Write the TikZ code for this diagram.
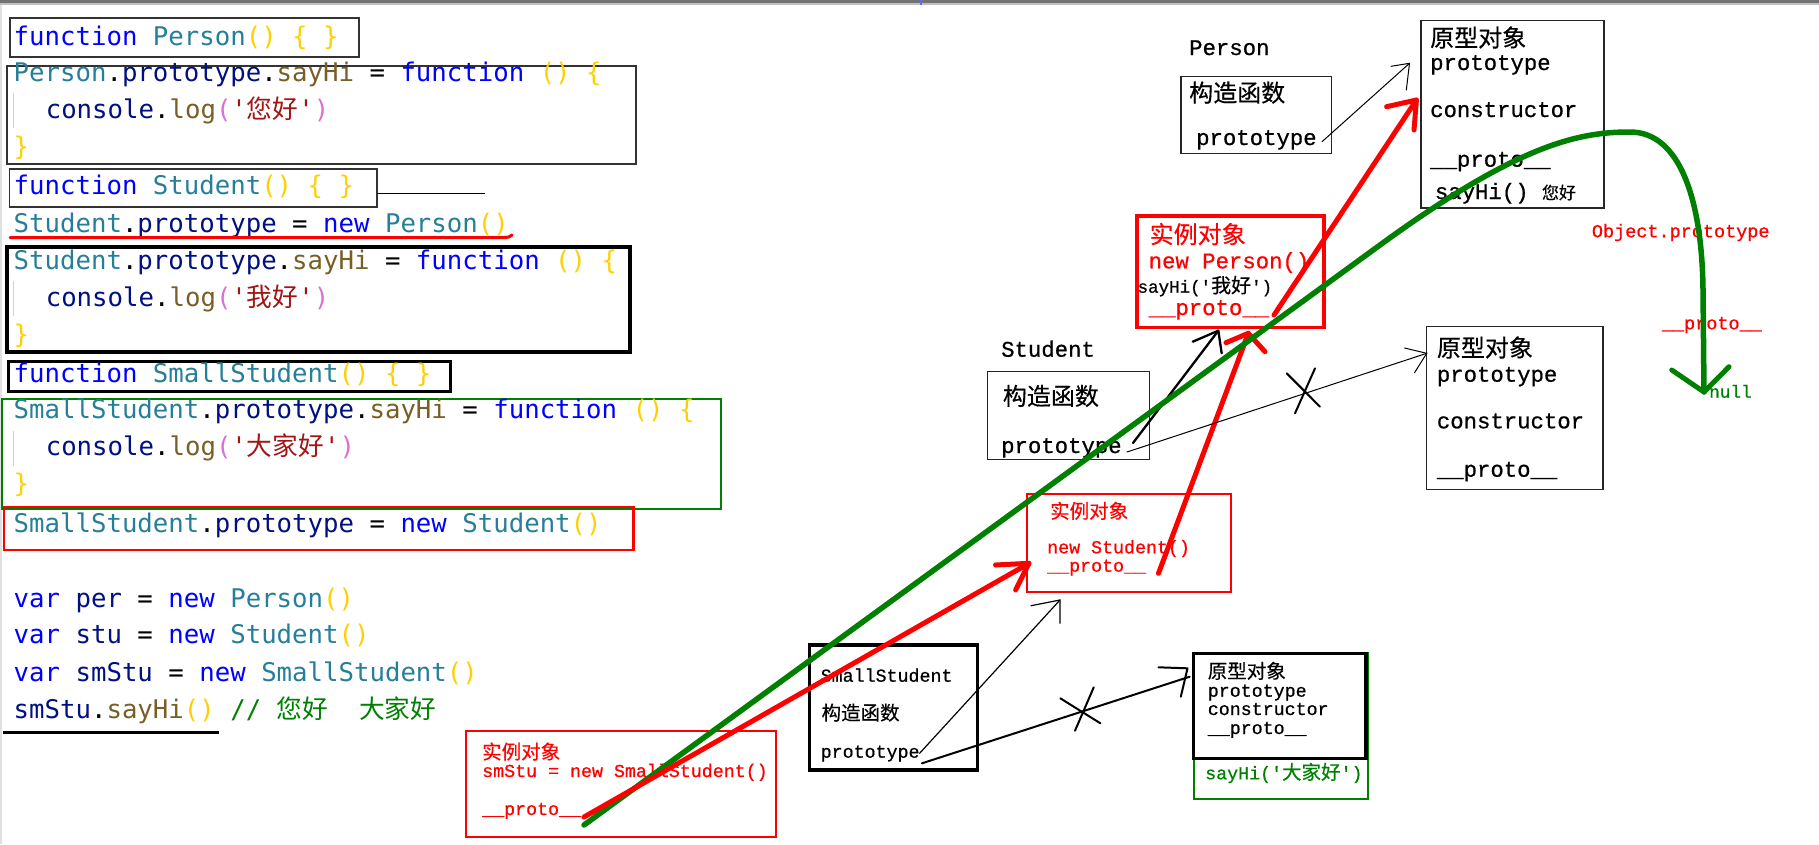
\documentclass[tikz,border=0pt]{standalone}
\usepackage{fontspec}
\setmonofont{DejaVu Sans Mono}
\newfontfamily\dmono{Liberation Mono}[FakeBold=0.7]
\newfontfamily\cjk{Noto Sans CJK SC}
\newfontfamily\cjkd{Noto Sans CJK SC}[FakeBold=0.4]
\definecolor{kwblue}{HTML}{0000FF}
\definecolor{tyteal}{HTML}{267F99}
\definecolor{prnavy}{HTML}{001080}
\definecolor{fnbrown}{HTML}{795E26}
\definecolor{brgold}{HTML}{FFD000}
\definecolor{brpink}{HTML}{DA70D6}
\definecolor{strred}{HTML}{A31515}
\definecolor{cmgreen}{HTML}{008000}
\definecolor{dgreen}{HTML}{008000}
\definecolor{pred}{HTML}{FF0000}
\newcommand\ckw[1]{\textcolor{kwblue}{#1}}
\newcommand\cty[1]{\textcolor{tyteal}{#1}}
\newcommand\cpr[1]{\textcolor{prnavy}{#1}}
\newcommand\cfn[1]{\textcolor{fnbrown}{#1}}
\newcommand\cbk[1]{\textcolor{brgold}{#1}}
\newcommand\cbp[1]{\textcolor{brpink}{#1}}
\newcommand\cst[1]{\textcolor{strred}{#1}}
\newcommand\ccm[1]{\textcolor{cmgreen}{#1}}
\newcommand\q{\textquotesingle}
\begin{document}
\begin{tikzpicture}[x=1pt,y=-1pt,
  code/.style={anchor=base west,inner sep=0pt,font=\ttfamily\fontsize{25.7}{30}\selectfont},
  dbig/.style={anchor=base west,inner sep=0pt,font=\dmono\fontsize{22.3}{26}\selectfont},
  dsmall/.style={anchor=base west,inner sep=0pt,font=\dmono\fontsize{18.3}{22}\selectfont},
  cbig/.style={anchor=base west,inner sep=0pt,font=\cjkd\fontsize{24}{28}\selectfont},
  csmall/.style={anchor=base west,inner sep=0pt,font=\cjkd\fontsize{19.5}{24}\selectfont},
  thinbox/.style={draw=black!85,line width=1.4pt},
  guide/.style={draw=black!18,line width=1.5pt},
  redarrow/.style={draw=pred,line width=5pt,line cap=round,line join=round},
  thinarrow/.style={draw=black,line width=1pt,line cap=round},
  midarrow/.style={draw=black,line width=2.3pt,line cap=round,line join=round},
  cross/.style={draw=black,line width=2pt,line cap=round}]
\useasboundingbox (0,0) rectangle (1819,844);
\fill[white] (0,0) rectangle (1819,844);
% top window edge
\fill[black!55] (0,0) rectangle (1819,3);
\fill[black!25] (0,3) rectangle (1819,4.5);
\fill[blue!60] (919.5,0) rectangle (922,4.5);
\draw[black!12,line width=1.2pt] (1,4.5) -- (1,844);

% ---------------- code ----------------
\draw[black!80,line width=1.5pt] (10,18) rectangle (359,57);
\node[code] (c1) at (13.5,45) {\ckw{function} \cty{Person}\cbk{()} \cbk{\{} \cbk{\}}};
\draw[black!80,line width=1.5pt] (7,66) rectangle (636,164);
\node[code] (c2) at (13.5,81.7) {\cty{Person}.\cpr{prototype}.\cfn{sayHi} = \ckw{function} \cbk{()} \cbk{\{}};
\draw[guide] (13.7,93) -- (13.7,128);
\node[code] (c3) at (45.6,118) {\cpr{console}.\cfn{log}\cbp{(}\cst{'{\cjk 您好}'}\cbp{)}};
\node[code] (c4) at (13.5,155) {\cbk{\}}};
\draw[black!80,line width=1.5pt] (9.5,169) rectangle (377,207);
\node[code] (c5) at (13.5,194) {\ckw{function} \cty{Student}\cbk{()} \cbk{\{} \cbk{\}}};
\coordinate (ls) at (377,193);
\coordinate (le) at (485,193);
\draw[black,line width=1pt] (ls) -- (le);
\node[code] (c6) at (13.5,232) {\cty{Student}.\cpr{prototype} = \ckw{new} \cty{Person}\cbk{()}};
\draw[pred,line width=3pt,line cap=round] (10,237.5) -- (505,237.5) to[bend right=20] (512,235);
\draw[black,line width=3.5pt] (7,247) rectangle (630,352);
\node[code] (c7) at (13.5,269) {\cty{Student}.\cpr{prototype}.\cfn{sayHi} = \ckw{function} \cbk{()} \cbk{\{}};
\draw[guide] (13.7,281) -- (13.7,316);
\node[code] (c8) at (45.6,306) {\cpr{console}.\cfn{log}\cbp{(}\cst{'{\cjk 我好}'}\cbp{)}};
\node[code] (c9) at (13.5,343) {\cbk{\}}};
\draw[black,line width=3pt] (8.3,361) rectangle (450,391);
\node[code] (c10) at (13.5,382) {\ckw{function} \cty{SmallStudent}\cbk{()} \cbk{\{} \cbk{\}}};
\draw[dgreen,line width=2pt] (2,399) rectangle (721,509);
\node[code] (c11) at (13.5,418) {\cty{SmallStudent}.\cpr{prototype}.\cfn{sayHi} = \ckw{function} \cbk{()} \cbk{\{}};
\draw[guide] (13.7,431) -- (13.7,466);
\node[code] (c12) at (45.6,455) {\cpr{console}.\cfn{log}\cbp{(}\cst{'{\cjk 大家好}'}\cbp{)}};
\node[code] (c13) at (13.5,492) {\cbk{\}}};
\draw[pred,line width=2.5pt] (4,507) rectangle (633.5,550);
\node[code] (c14) at (13.5,532) {\cty{SmallStudent}.\cpr{prototype} = \ckw{new} \cty{Student}\cbk{()}};
\node[code] (c15) at (13.5,607) {\ckw{var} \cpr{per} = \ckw{new} \cty{Person}\cbk{()}};
\node[code] (c16) at (13.5,643) {\ckw{var} \cpr{stu} = \ckw{new} \cty{Student}\cbk{()}};
\node[code] (c17) at (13.5,681) {\ckw{var} \cpr{smStu} = \ckw{new} \cty{SmallStudent}\cbk{()}};
\node[code] (c18) at (13.5,718) {\cpr{smStu}.\cfn{sayHi}\cbk{()} \ccm{// {\cjk 您好}\ \ {\cjk 大家好}}};
\draw[black,line width=2.5pt] (2.5,732.7) -- (219,732.7);

% ---------------- Person ----------------
\node[dbig] (plabel) at (1189,55) {Person};
\draw[thinbox] (1181,76.7) rectangle (1331.5,153.3);
\node[cbig] (pctor) at (1189,101.7) {构造函数};
\node[dbig] (pproto) at (1196,145) {prototype};
\draw[thinbox] (1421,20.7) rectangle (1604,208);
\node[cbig] (pp1) at (1430,46.7) {原型对象};
\node[dbig] (pp2) at (1430,70) {prototype};
\node[dbig] (pp3) at (1430,117) {constructor};
\node[dbig] (pp4) at (1430,166.7) {\_\_proto\_\_};
\node[dbig] (pp5) at (1434.7,199) {sayHi() {\cjkd\fontsize{17}{20}\selectfont 您好}};

% Person instance
\draw[pred,line width=3.5pt] (1137,216) rectangle (1324,327.7);
\node[cbig,text=pred] (pi1) at (1149.5,243.3) {实例对象};
\node[dbig,text=pred] (pi2) at (1148.5,268.3) {new Person()};
\node[anchor=base west,inner sep=0pt,font=\dmono\fontsize{17.5}{21}\selectfont] (pi3) at (1137.4,292.7) {sayHi(\q{\cjkd\fontsize{20}{24}\selectfont 我好}\q)};
\node[dbig,text=pred] (pi4) at (1148.5,315) {\_\_proto\_\_};

% ---------------- Student ----------------
\node[dbig] (slabel) at (1001,356.7) {Student};
\draw[thinbox] (987.7,371.7) rectangle (1149.6,459.3);
\node[cbig] (sctor) at (1002.7,405) {构造函数};
\node[dbig] (sproto) at (1001,453) {prototype};
\draw[thinbox] (1426.7,326.7) rectangle (1603,489.3);
\node[cbig] (sp1) at (1436.7,356.7) {原型对象};
\node[dbig] (sp2) at (1436.7,381.7) {prototype};
\node[dbig] (sp3) at (1436.7,428.3) {constructor};
\node[dbig] (sp4) at (1436.7,476.7) {\_\_proto\_\_};

% Object.prototype / null
\node[anchor=base west,inner sep=0pt,font=\dmono\fontsize{18.5}{22}\selectfont,text=pred] (op) at (1591.7,237.3) {Object.prototype};
\node[anchor=base west,inner sep=0pt,font=\dmono\fontsize{18.5}{22}\selectfont,text=pred] (opp) at (1661.7,329.3) {\_\_proto\_\_};
\node[anchor=base west,inner sep=0pt,font=\dmono\fontsize{17.7}{22}\selectfont,text=dgreen] (nul) at (1709,397.7) {null};

% Student instance
\draw[pred,line width=2pt] (1026.8,494.3) rectangle (1230.8,591.7);
\node[csmall,text=pred] (si1) at (1050,518.3) {实例对象};
\node[dsmall,text=pred] (si2) at (1047,553.3) {new Student()};
\node[dsmall,text=pred] (si3) at (1047,571.7) {\_\_proto\_\_};

% ---------------- SmallStudent ----------------
\draw[black,line width=3.5pt] (809.4,645) rectangle (977.7,770);
\node[dsmall] (mlabel) at (820.5,681.7) {SmallStudent};
\node[csmall] (mctor) at (821.4,720) {构造函数};
\node[dsmall] (mproto) at (820.5,757.7) {prototype};
\draw[dgreen,line width=2pt] (1194,653) rectangle (1368.3,799);
\draw[black,line width=3.5pt] (1193.3,653.3) rectangle (1366,758.3);
\node[csmall] (mp1) at (1207.6,678.3) {原型对象};
\node[dsmall] (mp2) at (1207.6,696.7) {prototype};
\node[dsmall] (mp3) at (1207.6,715) {constructor};
\node[dsmall] (mp4) at (1207.6,734) {\_\_proto\_\_};
\node[dsmall,text=dgreen] (mp5) at (1205,779.3) {sayHi(\q{\cjkd\fontsize{19.5}{24}\selectfont 大家好}\q)};

% smStu instance
\draw[pred,line width=2pt] (466,731) rectangle (775.5,836.7);
\node[csmall,text=pred] (mi1) at (482,759) {实例对象};
\node[dsmall,text=pred] (mi2) at (482,777) {smStu = new SmallStudent()};
\node[dsmall,text=pred] (mi3) at (482,815) {\_\_proto\_\_};

% ---------------- connectors ----------------
% Person.prototype -> prototype object
\coordinate (a1s) at (1322,141.7); \coordinate (a1t) at (1409.5,63.3);
\draw[thinarrow] (a1s) -- (a1t);
\draw[thinarrow] (1391,66.3) -- (a1t) -- (1406.3,90);
% Person instance __proto__ -> Person prototype (red)
\coordinate (a2s) at (1274,315); \coordinate (a2t) at (1416.4,100);
\draw[redarrow] (a2s) -- (a2t);
\draw[redarrow] (1386.6,106.7) -- (a2t) -- (1414,130);
% Student.prototype -> Person instance (black)
\coordinate (a3s) at (1133,443); \coordinate (a3t) at (1218.3,330.7);
\draw[midarrow] (a3s) -- (a3t);
\draw[midarrow] (1192.7,341.7) -- (a3t) -- (1221.7,353.3);
% Student instance __proto__ -> Person instance (red)
\coordinate (a4s) at (1158.5,573.3); \coordinate (a4t) at (1248.3,333.3);
\draw[redarrow] (a4s) -- (a4t);
\draw[redarrow] (1226,342.7) -- (a4t) -- (1265,351.7);
% Student.prototype -> old prototype object (crossed)
\coordinate (a5s) at (1127,452); \coordinate (a5t) at (1426.7,353.3);
\draw[thinarrow] (a5s) -- (a5t);
\draw[thinarrow] (1404.5,348) -- (a5t) -- (1414.5,372.7);
\draw[cross] (1286.7,373.3) -- (1320,406.7);
\draw[cross] (1315,368.3) -- (1295,413.3);
% green chain to null
\coordinate (gs) at (584,825); \coordinate (gt) at (1704,392);
\draw[dgreen,line width=5.5pt,line cap=round,line join=round]
  (gs) -- (1380,245) .. controls (1520,143) and (1580,132) .. (1630,132)
  .. controls (1680,132) and (1702,200) .. (1703,290) -- (gt);
\draw[dgreen,line width=5pt,line cap=round,line join=round] (1671.7,370) -- (gt) -- (1729,366.7);
% smStu __proto__ -> Student instance (red)
\coordinate (a6s) at (584,817); \coordinate (a6t) at (1029,563.3);
\draw[redarrow] (a6s) -- (a6t);
\draw[redarrow] (995.5,565) -- (a6t) -- (1015.6,590);
% SmallStudent.prototype -> Student instance
\coordinate (a7s) at (919.6,753.3); \coordinate (a7t) at (1060,600);
\draw[thinarrow,line width=1.2pt] (a7s) -- (a7t);
\draw[thinarrow,line width=1.2pt] (1031,605.7) -- (a7t) -- (1060,623.3);
% SmallStudent.prototype -> old prototype object (crossed)
\coordinate (a8s) at (921.9,763.3); \coordinate (a8t) at (1189.7,676.7);
\draw[midarrow,line width=2pt] (a8s) -- (a8t);
\draw[midarrow,line width=2pt] (1158.5,667.3) -- (1187.5,668.3) -- (1180.8,696.7);
\draw[cross] (1060.3,698.3) -- (1100.4,723.3);
\draw[cross] (1093.75,687.3) -- (1075,730.7);
\end{tikzpicture}
\end{document}
